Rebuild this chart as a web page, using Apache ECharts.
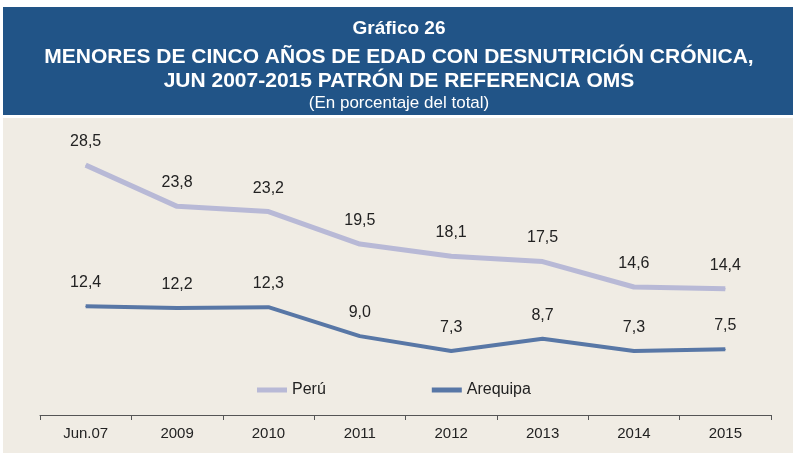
<!DOCTYPE html>
<html>
<head>
<meta charset="utf-8">
<script src="https://cdn.jsdelivr.net/npm/echarts@6/dist/echarts.min.js"></script>
<style>
  html, body { margin: 0; padding: 0; background: #fff; }
  #chart { width: 798px; height: 455px; }
</style>
</head>
<body>
<div id="chart"></div>
<script>
var years = ['Jun.07', '2009', '2010', '2011', '2012', '2013', '2014', '2015']
var peru = [28.5, 23.8, 23.2, 19.5, 18.1, 17.5, 14.6, 14.4]
var arequipa = [12.4, 12.2, 12.3, 9.0, 7.3, 8.7, 7.3, 7.5]

var myChart = echarts.init(document.getElementById('chart'))

function fmt (p) {
  return p.value.toFixed(1).replace('.', ',')
}

var pointLabel = { show: true, position: 'top', distance: 15, formatter: fmt, color: '#222', fontSize: 16 }

myChart.setOption({
  backgroundColor: '#ffffff',
  textStyle: { fontFamily: 'Liberation Sans, Arial, sans-serif' },
  graphic: [
    { type: 'rect', z: -10, shape: { x: 3, y: 7, width: 790, height: 108 }, style: { fill: '#215487' } },
    { type: 'rect', z: -10, shape: { x: 3, y: 118, width: 790, height: 335 }, style: { fill: '#f0ece4' } }
  ],
  title: [
    { text: 'Gráfico 26', left: 'center', top: 14, textStyle: { color: '#fff', fontSize: 19, fontWeight: 'bold' } },
    { text: 'MENORES DE CINCO AÑOS DE EDAD CON DESNUTRICIÓN CRÓNICA,', left: 'center', top: 42, textStyle: { color: '#fff', fontSize: 21, fontWeight: 'bold' } },
    { text: 'JUN 2007-2015 PATRÓN DE REFERENCIA OMS', left: 'center', top: 66, textStyle: { color: '#fff', fontSize: 21, fontWeight: 'bold' } },
    { text: '(En porcentaje del total)', left: 'center', top: 90, textStyle: { color: '#fff', fontSize: 17, fontWeight: 'normal' } }
  ],
  legend: {
    data: ['Perú', 'Arequipa'],
    left: 252,
    top: 377,
    icon: 'rect',
    itemWidth: 30,
    itemHeight: 5,
    itemGap: 106,
    textStyle: { color: '#222', fontSize: 16 }
  },
  grid: {
    left: 40,
    right: 27,
    top: 152,
    bottom: 40
  },
  xAxis: {
    type: 'category',
    data: years,
    boundaryGap: true,
    axisLine: { lineStyle: { color: '#555', width: 1 } },
    axisTick: { show: true, length: 5, lineStyle: { color: '#555' } },
    axisLabel: { color: '#222', fontSize: 15, margin: 11 }
  },
  yAxis: {
    type: 'value',
    min: 0,
    max: 30,
    show: false
  },
  series: [
    {
      name: 'Perú',
      type: 'line',
      data: peru,
      symbol: 'circle',
      symbolSize: 1,
      showSymbol: true,
      itemStyle: { color: '#b8b9d6' },
      lineStyle: { width: 5, color: '#b8b9d6' },
      label: pointLabel
    },
    {
      name: 'Arequipa',
      type: 'line',
      data: arequipa,
      symbol: 'circle',
      symbolSize: 1,
      showSymbol: true,
      itemStyle: { color: '#5877a6' },
      lineStyle: { width: 4, color: '#5877a6' },
      label: pointLabel
    }
  ]
})
</script>
</body>
</html>
